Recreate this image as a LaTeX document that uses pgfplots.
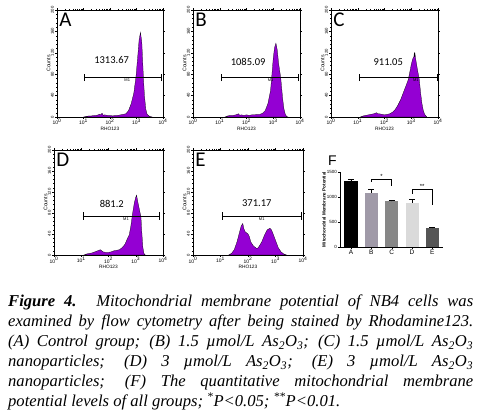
\documentclass[border=0pt]{standalone}
\usepackage{fontspec}
\setmainfont{Liberation Serif}
\newfontfamily\carl{Carlito}
\newfontfamily\arial{Liberation Sans}
\usepackage{pgfplots}
\pgfplotsset{compat=1.18}

\definecolor{histpurple}{RGB}{148,0,211}
\definecolor{barB}{RGB}{160,154,168}
\definecolor{barC}{RGB}{135,135,135}
\definecolor{barD}{RGB}{218,218,218}
\definecolor{barE}{RGB}{85,85,85}

\newcommand{\gate}[3]{%
 \draw[line width=0.4pt] (axis cs:#1,74) -- (axis cs:#2,74);
 \draw[line width=0.4pt] (axis cs:#1,67) -- (axis cs:#1,81);
 \draw[line width=0.4pt] (axis cs:#2,67) -- (axis cs:#2,81);
 \node[font=\arial\fontsize{4}{4}\selectfont, anchor=north, inner sep=1pt] at (axis cs:#3,74) {M1};}
\newcommand{\plab}[1]{\node[font=\carl\fontsize{21}{21}\selectfont, anchor=north west, inner sep=0pt] at (rel axis cs:0.02,0.972) {#1};}
\newcommand{\mval}[3]{\node[font=\carl\fontsize{10.5}{10.5}\selectfont] at (axis cs:#1,#2) {#3};}

\begin{document}
\begin{tikzpicture}
\path[use as bounding box] (0,0) rectangle (482pt,419pt);

% ---------- A ----------
\begin{axis}[xmode=log, scale only axis, anchor=south west, at={(57pt,302pt)}, width=106pt, height=107pt,
  xmin=1, xmax=10000, ymin=0, ymax=200,
  xtick={1,10,100,1000,10000},
  xticklabels={10\textsuperscript{0},10\textsuperscript{1},10\textsuperscript{2},10\textsuperscript{3},10\textsuperscript{4}},
  minor xtick={2,3,4,5,6,7,8,9,20,30,40,50,60,70,80,90,200,300,400,500,600,700,800,900,2000,3000,4000,5000,6000,7000,8000,9000},
  ytick={0,40,80,120,160,200}, yticklabels={0,40,80,120,160,200}, minor ytick={8,16,...,192},
  tick align=outside, major tick length=1.8pt, minor tick length=1pt,
  tick style={black, line width=0.3pt}, axis line style={line width=0.5pt},
  xticklabel style={font=\arial\fontsize{5}{5}\selectfont, inner sep=0.5pt},
  yticklabel style={font=\arial\fontsize{4.2}{4.2}\selectfont, rotate=90, anchor=south, inner sep=1pt},
  xlabel={RHO123}, ylabel={Counts},
  xlabel style={font=\arial\fontsize{4.8}{4.8}\selectfont, inner sep=0pt, yshift=-1.5pt},
  ylabel style={font=\arial\fontsize{5.2}{5.2}\selectfont, inner sep=0pt, yshift=-0.5pt}]
\addplot[fill=histpurple, draw=black, line width=0.25pt] coordinates {(10,0) (12.59,1) (15.85,2) (19.95,2) (25.12,3) (31.62,3) (39.81,5) (44.67,4) (50.12,7) (56.23,3) (63.10,4) (79.43,3) (100,3) (125.9,2) (158.5,3) (199.5,3) (251.2,4) (316.2,5) (398.1,6) (501.2,12) (631.0,25) (794.3,45) (955.0,75) (1122,115) (1259,145) (1413,158) (1585,140) (1820,75) (1995,40) (2239,15) (2512,5) (3162,1) (3981,0)} \closedcycle;
\gate{10.47}{8710}{447}
\plab{A}
\mval{115}{107}{1313.67}
\end{axis}

% ---------- B ----------
\begin{axis}[xmode=log, scale only axis, anchor=south west, at={(193pt,302pt)}, width=107pt, height=107pt,
  xmin=1, xmax=10000, ymin=0, ymax=200,
  xtick={1,10,100,1000,10000},
  xticklabels={10\textsuperscript{0},10\textsuperscript{1},10\textsuperscript{2},10\textsuperscript{3},10\textsuperscript{4}},
  minor xtick={2,3,4,5,6,7,8,9,20,30,40,50,60,70,80,90,200,300,400,500,600,700,800,900,2000,3000,4000,5000,6000,7000,8000,9000},
  ytick={0,40,80,120,160,200}, yticklabels={0,40,80,120,160,200}, minor ytick={8,16,...,192},
  tick align=outside, major tick length=1.8pt, minor tick length=1pt,
  tick style={black, line width=0.3pt}, axis line style={line width=0.5pt},
  xticklabel style={font=\arial\fontsize{5}{5}\selectfont, inner sep=0.5pt},
  yticklabel style={font=\arial\fontsize{4.2}{4.2}\selectfont, rotate=90, anchor=south, inner sep=1pt},
  xlabel={RHO123}, ylabel={Counts},
  xlabel style={font=\arial\fontsize{4.8}{4.8}\selectfont, inner sep=0pt, yshift=-1.5pt},
  ylabel style={font=\arial\fontsize{5.2}{5.2}\selectfont, inner sep=0pt, yshift=-0.5pt}]
\addplot[fill=histpurple, draw=black, line width=0.25pt] coordinates {(15.85,0) (19.95,2) (25.12,3) (31.62,3) (39.81,4) (50.12,6) (56.23,3) (63.10,4) (79.43,3) (100,4) (125.9,3) (158.5,4) (199.5,4) (251.2,5) (316.2,5) (398.1,7) (501.2,12) (631.0,25) (794.3,50) (871.0,73) (1000,110) (1122,130) (1259,138) (1413,125) (1585,100) (1905,73) (2239,35) (2512,15) (2818,5) (3162,1) (3548,0)} \closedcycle;
\gate{11.75}{8710}{794}
\plab{B}
\mval{115}{103}{1085.09}
\end{axis}

% ---------- C ----------
\begin{axis}[xmode=log, scale only axis, anchor=south west, at={(331pt,302pt)}, width=107pt, height=107pt,
  xmin=1, xmax=10000, ymin=0, ymax=200,
  xtick={1,10,100,1000,10000},
  xticklabels={10\textsuperscript{0},10\textsuperscript{1},10\textsuperscript{2},10\textsuperscript{3},10\textsuperscript{4}},
  minor xtick={2,3,4,5,6,7,8,9,20,30,40,50,60,70,80,90,200,300,400,500,600,700,800,900,2000,3000,4000,5000,6000,7000,8000,9000},
  ytick={0,40,80,120,160,200}, yticklabels={0,40,80,120,160,200}, minor ytick={8,16,...,192},
  tick align=outside, major tick length=1.8pt, minor tick length=1pt,
  tick style={black, line width=0.3pt}, axis line style={line width=0.5pt},
  xticklabel style={font=\arial\fontsize{5}{5}\selectfont, inner sep=0.5pt},
  yticklabel style={font=\arial\fontsize{4.2}{4.2}\selectfont, rotate=90, anchor=south, inner sep=1pt},
  xlabel={RHO123}, ylabel={Counts},
  xlabel style={font=\arial\fontsize{4.8}{4.8}\selectfont, inner sep=0pt, yshift=-1.5pt},
  ylabel style={font=\arial\fontsize{5.2}{5.2}\selectfont, inner sep=0pt, yshift=-0.5pt}]
\addplot[fill=histpurple, draw=black, line width=0.25pt] coordinates {(12.59,0) (15.85,2) (19.95,3) (25.12,4) (31.62,5) (39.81,6) (50.12,8) (56.23,6) (63.10,6) (79.43,5) (100,4) (125.9,5) (158.5,6) (199.5,9) (251.2,14) (316.2,22) (398.1,32) (501.2,45) (631.0,58) (776.2,70) (891.3,85) (1000,98) (1122,108) (1259,113) (1300,121) (1340,112) (1380,118) (1450,110) (1514,104) (1660,92) (1995,70) (2239,45) (2512,25) (2818,12) (3162,5) (3802,0)} \closedcycle;
\gate{11.5}{9333}{1479}
\plab{C}
\mval{138}{103}{911.05}
\end{axis}

% ---------- D ----------
\begin{axis}[xmode=log, scale only axis, anchor=south west, at={(54pt,164pt)}, width=109pt, height=105pt,
  xmin=1, xmax=10000, ymin=0, ymax=200,
  xtick={1,10,100,1000,10000},
  xticklabels={10\textsuperscript{0},10\textsuperscript{1},10\textsuperscript{2},10\textsuperscript{3},10\textsuperscript{4}},
  minor xtick={2,3,4,5,6,7,8,9,20,30,40,50,60,70,80,90,200,300,400,500,600,700,800,900,2000,3000,4000,5000,6000,7000,8000,9000},
  ytick={0,40,80,120,160,200}, yticklabels={0,40,80,120,160,200}, minor ytick={8,16,...,192},
  tick align=outside, major tick length=1.8pt, minor tick length=1pt,
  tick style={black, line width=0.3pt}, axis line style={line width=0.5pt},
  xticklabel style={font=\arial\fontsize{5}{5}\selectfont, inner sep=0.5pt},
  yticklabel style={font=\arial\fontsize{4.2}{4.2}\selectfont, rotate=90, anchor=south, inner sep=1pt},
  xlabel={RHO123}, ylabel={Counts},
  xlabel style={font=\arial\fontsize{4.8}{4.8}\selectfont, inner sep=0pt, yshift=-1.5pt},
  ylabel style={font=\arial\fontsize{5.2}{5.2}\selectfont, inner sep=0pt, yshift=-0.5pt}]
\addplot[fill=histpurple, draw=black, line width=0.25pt] coordinates {(12.59,0) (15.85,2) (19.95,3) (25.12,4) (31.62,6) (39.81,8) (50.12,10) (56.23,8) (63.10,6) (79.43,5) (100,5) (125.9,6) (158.5,8) (199.5,9) (251.2,10) (316.2,14) (398.1,20) (501.2,32) (575.4,38) (660.7,55) (758.6,78) (891.3,100) (1000,110) (1072,114) (1202,100) (1380,85) (1549,73) (1660,45) (1820,15) (1995,3) (2239,0)} \closedcycle;
\gate{11.5}{7413}{437}
\plab{D}
\mval{132}{98}{881.2}
\end{axis}

% ---------- E ----------
\begin{axis}[xmode=log, scale only axis, anchor=south west, at={(193pt,164pt)}, width=110pt, height=105pt,
  xmin=1, xmax=10000, ymin=0, ymax=200,
  xtick={1,10,100,1000,10000},
  xticklabels={10\textsuperscript{0},10\textsuperscript{1},10\textsuperscript{2},10\textsuperscript{3},10\textsuperscript{4}},
  minor xtick={2,3,4,5,6,7,8,9,20,30,40,50,60,70,80,90,200,300,400,500,600,700,800,900,2000,3000,4000,5000,6000,7000,8000,9000},
  ytick={0,40,80,120,160,200}, yticklabels={0,40,80,120,160,200}, minor ytick={8,16,...,192},
  tick align=outside, major tick length=1.8pt, minor tick length=1pt,
  tick style={black, line width=0.3pt}, axis line style={line width=0.5pt},
  xticklabel style={font=\arial\fontsize{5}{5}\selectfont, inner sep=0.5pt},
  yticklabel style={font=\arial\fontsize{4.2}{4.2}\selectfont, rotate=90, anchor=south, inner sep=1pt},
  xlabel={RHO123}, ylabel={Counts},
  xlabel style={font=\arial\fontsize{4.8}{4.8}\selectfont, inner sep=0pt, yshift=-1.5pt},
  ylabel style={font=\arial\fontsize{5.2}{5.2}\selectfont, inner sep=0pt, yshift=-0.5pt}]
\addplot[fill=histpurple, draw=black, line width=0.25pt] coordinates {(19.95,0) (25.12,3) (31.62,10) (39.81,25) (50.12,45) (56.23,55) (64.57,60) (70.79,50) (79.43,44) (100,40) (112.2,35) (125.9,25) (158.5,17) (199.5,13) (223.9,13) (251.2,16) (316.2,25) (398.1,38) (501.2,48) (631.0,51) (707.9,48) (794.3,42) (1000,28) (1259,14) (1585,6) (1995,2) (2512,0)} \closedcycle;
\gate{12.0}{8318}{316}
\plab{E}
\mval{209}{98}{371.17}
\end{axis}

% ---------- F ----------
\begin{axis}[scale only axis, at={(340pt,172pt)}, anchor=south west, width=103pt, height=75pt,
 xmin=0.46, xmax=5.52, ymin=0, ymax=1500,
 axis x line*=bottom, axis y line*=left, axis line style={line width=0.6pt},
 xtick={1,2,3,4,5}, xticklabels={A,B,C,D,E},
 ytick={0,500,1000,1500}, yticklabels={0,500,1000,1500},
 tick align=outside, major tick length=2pt, tick style={black,line width=0.4pt},
 xticklabel style={font=\arial\fontsize{6.5}{6.5}\selectfont, inner sep=1pt},
 yticklabel style={font=\arial\fontsize{4.5}{4.5}\selectfont, inner sep=1pt},
 ylabel={Mitochondrial Membrane Potential},
 ylabel style={font=\arial\bfseries\fontsize{4.6}{4.6}\selectfont, inner sep=0pt},
 ybar, bar shift=0pt, bar width=0.64,
 clip=false,
 error bars/error bar style={black, line width=0.5pt, mark size=3pt},
]
\addplot[fill=black, draw=none, error bars/.cd, y dir=plus, y explicit] coordinates {(1,1313.67) +- (0,45)};
\addplot[fill=barB, draw=none, error bars/.cd, y dir=plus, y explicit] coordinates {(2,1085.09) +- (0,66)};
\addplot[fill=barC, draw=none, error bars/.cd, y dir=plus, y explicit] coordinates {(3,911.05) +- (0,20)};
\addplot[fill=barD, draw=none, error bars/.cd, y dir=plus, y explicit] coordinates {(4,881.2) +- (0,70)};
\addplot[fill=barE, draw=none, error bars/.cd, y dir=plus, y explicit] coordinates {(5,371.17) +- (0,20)};
\draw[line width=0.5pt] (axis cs:2,1300) -- (axis cs:2,1353) -- (axis cs:3,1353) -- (axis cs:3,1213);
\draw[line width=0.5pt] (axis cs:4,1067) -- (axis cs:4,1147) -- (axis cs:5,1147) -- (axis cs:5,847);
\node[font=\arial\fontsize{6}{6}\selectfont] at (axis cs:2.5,1420) {*};
\node[font=\arial\fontsize{6}{6}\selectfont] at (axis cs:4.5,1205) {**};
\end{axis}
\node[anchor=north west, font=\arial\fontsize{14}{14}\selectfont, inner sep=0pt] at (328pt,263pt) {F};

% ---------- caption ----------
\begin{scope}[every node/.style={anchor=base west, inner sep=0pt, font=\itshape\fontsize{16.6}{20}\selectfont}]
\node at (8pt,112pt) {\makebox[465pt][s]{\textbf{Figure 4.} Mitochondrial membrane potential of NB4 cells was}};
\node at (8pt,92pt) {\makebox[465pt][s]{examined by flow cytometry after being stained by Rhodamine123.}};
\node at (8pt,72pt) {\makebox[465pt][s]{(A) Control group; (B) 1.5 µmol/L As\textsubscript{2}O\textsubscript{3}; (C) 1.5 µmol/L As\textsubscript{2}O\textsubscript{3}}};
\node at (8pt,52pt) {\makebox[465pt][s]{nanoparticles; (D) 3 µmol/L As\textsubscript{2}O\textsubscript{3}; (E) 3 µmol/L As\textsubscript{2}O\textsubscript{3}}};
\node at (8pt,32pt) {\makebox[465pt][s]{nanoparticles; (F) The quantitative mitochondrial membrane}};
\node at (8pt,12pt) {potential levels of all groups; \textsuperscript{*}P<0.05; \textsuperscript{**}P<0.01.};
\end{scope}
\end{tikzpicture}
\end{document}
